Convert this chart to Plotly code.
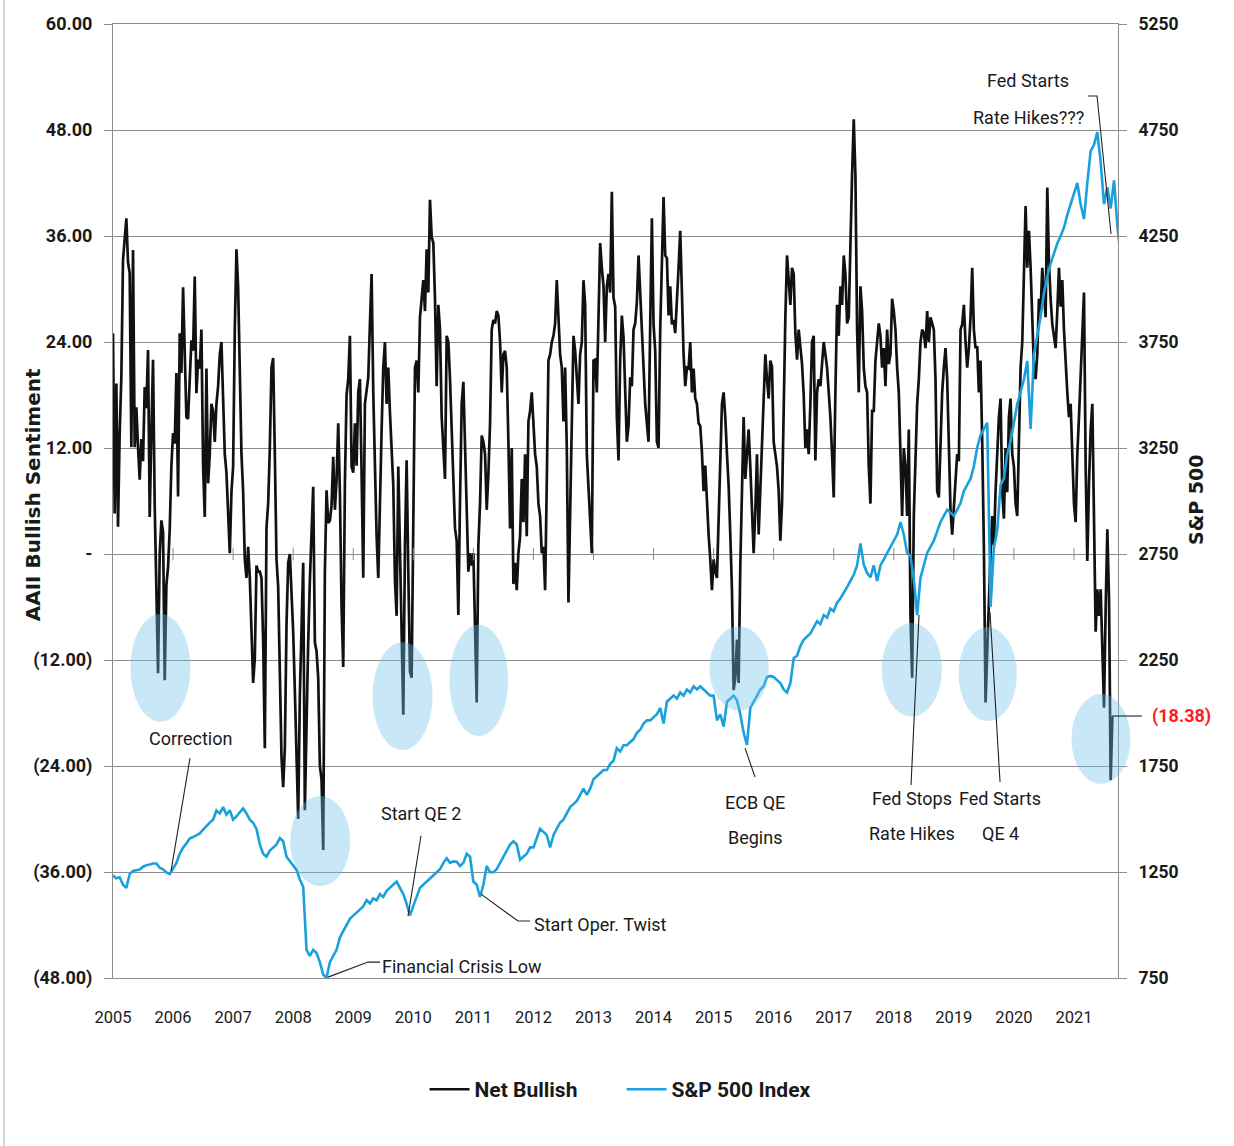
import plotly.graph_objects as go

# ---------------- data ----------------
START_YEAR = 2005.0
NB_PER_YEAR = 36   # net bullish sampled every 1/36 year
SP_PER_YEAR = 18   # S&P 500 sampled every 1/18 year

NET_BULLISH = [
    25, 4.6, 19.3, 3.1, 13.7, 20, 33.3, 36, 38, 33,
    31.8, 12.1, 34.4, 12.1, 16.6, 12.1, 8.4, 13, 10.5, 18.9,
    16.5, 23.1, 4.2, 13.7, 22, 5.5, -3.3, -13.5, 0, 3.8,
    2.5, -14.3, -3.5, -1.5, 2.8, 10, 13.7, 12.5, 20.5, 6.5,
    25, 20.5, 30.2, 22, 15.5, 15.3, 20, 24.2, 23, 31.4,
    18.2, 22, 21, 25.4, 10, 4.2, 21, 8,
    11.3, 17, 16.2, 12.7, 17, 19, 22.6, 24, 17.6, 11.3,
    9.2, 4.3, 0.1, 7, 9.9, 25.4, 34.5, 30.2, 18.3, 11.3,
    7.1, -0.6, -2.7, 0.8, -2.7, -9.7, -14.6, -11.8, -1.3, -2,
    -2, -2.7, -9.7, -22, 3, 5.7, 12, 21.1, 22.2, 11.3,
    -0.6,
    -3.7, -14, -23, -26.4, -22, -8, -1, 0, -4, -8.8,
    -15.5, -23.5, -30, -16, -9, -1, -29, -18, -10, -3,
    1.6, 7.6, -10, -11, -14, -24, -25.5, -33.5, -2, 7.2,
    3.5, 3.8, 5.5, 11, 5, 8.4, 14.8, 7, -6, -12.8,
    8, 18,
    19.8, 24.7, 9.9, 9.2, 14.8, 10, 18.3, 19.8, 9.2, -2.7,
    17, 18.3, 20, 26.1, 31.7, 18.3, 9.9, 2, -2.7, 7.8,
    14, 21.1, 24, 17, 21.1, 16, 11.3, 7.8, -3, -7,
    9.9, 0.8, -10, -18.2, 1, 10.6, -2, -13.3, -14, 5.7,
    21.1, 21.9, 18.3, 26.8, 29, 31, 27.5, 34.5, 29.6, 40.1,
    35.9, 35.2, 28.9, 19, 28.2, 25.4, 15.5, 12, 8.5, 24.7,
    24, 19.8,
    14.8, 8.5, 2.9, 1.5, -6.9, 6, 17, 19.5, 13, 4.3,
    -2, 0.1, -1.3, 0.1, -9.7, -16.8, 1, 5.7, 13.4, 12.7,
    11.3, 5, 9, 14.8, 25.4, 26.5, 26.1, 27.5, 27, 24,
    18.3, 22.6, 23, 21.1, 12.7, 2.9, 12, -3.4, -1, -4.1,
    0.1, 2, 8.5, 3.6, 11.3, 2, 15, 16.2, 18.3, 14.8,
    11.3, 9.9, 5.7, 4.3, 0.1, 0.8, -4.1, 8, 21.9, 22.6,
    24, 24.7, 26.1, 31, 27.5, 22.6, 21.1, 15, 21.1, 12,
    -5.5, 5.7, 18.3, 24.7, 23, 20.4, 17, 22.6, 24, 31,
    28.2, 11.3, 7.1, 4.3, 0.1, 21.9, 22, 18.3, 27.5, 35.2,
    32.4, 30.3, 24, 30.3, 31.7, 29.6, 41,
    29, 28, 15.5, 10.6, 22, 27, 24.5, 18.5, 12.7, 14.5,
    20, 19, 25.4, 26.1, 28.5, 33.8, 29.5, 25, 19.8, 17,
    14.8, 12.7, 26, 38, 26, 23, 12.7, 12, 25.4, 33.8,
    40.4, 33.8, 33.5, 27, 30.3, 26, 26.5, 25, 29.6, 32.4,
    36.6, 29, 22.6, 19, 21.1, 21, 24, 18.3, 21, 17.6,
    17, 14.8, 14.5, 11.5, 7.1, 10, 5, 2.2, -0.6, -4.1,
    -0.6, -2, -2.7, 4.3, 11.3, 17, 18.3, 15.5, 11.3, 7.8,
    2.2, -4.1, -15.4, -14, -9.7, -14.6, -1.3, 7.1, 15.5, 8.5,
    11.3, 14.1, 9.9, 4.3, 0.1, 5, 11.3, 2.2, 7.1, 11.3,
    17, 22.6, 19.8, 17.6, 21.9, 21.2, 12.7, 11.3, 9.9, 7.1,
    1.5, 5.7, 17, 26.8, 33.8, 31, 28.2,
    32.4, 31.7, 25, 22, 25.4, 23.3, 21.5, 18, 12, 14.1,
    11.3, 17, 24, 24.7, 10.6, 18.3, 19.8, 19, 21.1, 24,
    22.6, 21.1, 18.3, 15.5, 11.3, 6.4, 18.3, 28.2, 24.7, 30.3,
    28.2, 33.8, 31.7, 26.1, 26.8, 35.9, 42.9, 49.2, 42.9, 25.4,
    18.3, 30.3, 27.5, 21.1, 19, 18.3, 9.9, 5.7, 16.2, 16.2,
    21.9, 24, 26.1, 24.7, 21.1, 23.3, 19, 25.4, 21.5, 22.6,
    28.9, 27.5, 25.4, 21.1, 18.3, 11.3, 4.3, 12, 9.9, 4.3,
    14.1, -6.9, -14, 4.3, 12, 17, 19.8, 24, 25.4, 25,
    23.3, 27.5, 24, 26.8, 26.1, 25.4, 19.8, 7.1, 6.4, 12.7,
    18.3, 21.1, 23.3, 19.8, 12.7, 5, 2.2, 5.7, 7.8, 11.3,
    10.5,
    25.4, 26, 28.2, 24, 21.1, 23.3, 26.8, 32.4, 25.4, 23.3,
    23.5, 18.3, 21.9, 12.7, 0.8, -16.8, -11.1, -4.1, 0.1, 4.3,
    1, 7.1, 11.3, 15.5, 17.6, 7.1, 4, 12, 7, 15.5,
    17.6, 11.3, 9.9, 5.7, 4.3, 14.1, 21.1, 24, 31, 39.4,
    32.4, 36.6, 32.4, 26.8, 21.1, 19.8, 22.6, 28.9, 27.5, 32.4,
    30, 26.8, 41.5, 33, 28.9, 26, 24.7, 23.3, 27.5, 32.4,
    28, 31, 25.4, 21.1, 18.3, 15.5, 17, 11.3, 5.7, 3.6,
    11.3, 15.5, 19.8, 24, 29.6, 10, -0.8, 8, 14, 17,
    2, -8.8, -4, -7, -4, -12, -17.4, -6, 2.8, -5,
    -25.6, -18.38,
]

SP500 = [
    1234, 1220, 1225, 1190, 1175, 1240, 1255, 1260, 1262, 1275,
    1282, 1285, 1290, 1290, 1270, 1263, 1248, 1240, 1265, 1293,
    1336, 1365, 1385, 1408, 1415, 1424, 1432, 1450, 1468, 1483,
    1497, 1540, 1526, 1556, 1520, 1541, 1497, 1512, 1532, 1550,
    1526, 1497, 1482, 1453, 1380, 1336, 1322, 1351, 1365, 1380,
    1410,
    1395, 1322, 1300, 1280, 1260, 1215, 1180, 883, 854, 883,
    868, 825, 766, 751, 825, 854, 883, 942, 971, 1000,
    1029, 1044, 1059, 1073, 1088, 1117, 1102, 1125, 1117, 1146,
    1132, 1161, 1175, 1190, 1205, 1175, 1146, 1100, 1045, 1090,
    1132, 1175, 1190, 1205, 1220, 1234, 1249, 1263, 1293, 1315,
    1293,
    1300, 1298, 1278, 1293, 1336, 1322, 1205, 1190, 1132, 1190,
    1278, 1249, 1249, 1263, 1293, 1322, 1351, 1380, 1395, 1380,
    1308, 1322, 1336, 1366, 1366, 1410, 1454, 1439, 1424, 1366,
    1424, 1454, 1483, 1497, 1526, 1556, 1570, 1585, 1614, 1643,
    1614, 1643, 1687, 1702, 1716, 1731, 1731, 1760, 1775, 1834,
    1819,
    1848, 1848, 1863, 1877, 1907, 1921, 1950, 1965, 1965, 1980,
    1994, 2024, 1950, 2053, 2068, 2082, 2068, 2097, 2082, 2111,
    2097, 2126, 2111, 2126, 2111, 2097, 2082, 2082, 1965, 1994,
    1936, 2053, 2068, 2082, 2060, 1994, 1907, 1850, 2024, 2053,
    2082, 2111, 2126, 2170, 2175, 2170, 2155, 2141, 2111, 2097,
    2140,
    2258, 2270, 2316, 2345, 2360, 2375, 2404, 2433, 2420, 2462,
    2450, 2492, 2480, 2521, 2540, 2565, 2594, 2623, 2652, 2696,
    2800, 2700, 2660, 2640, 2696, 2623, 2696, 2725, 2755, 2784,
    2813, 2842, 2900, 2842, 2755, 2740, 2630, 2462, 2638, 2696,
    2755, 2784, 2813, 2857, 2901, 2930, 2959, 2945, 2930, 2959,
    2990,
    3047, 3076, 3105, 3164, 3252, 3310, 3339, 3369, 2500, 2780,
    2860, 3076, 3105, 3222, 3281, 3369, 3456, 3515, 3573, 3661,
    3340, 3690, 3778, 3870, 3980, 4060, 4120, 4170, 4215, 4250,
    4290, 4350, 4400, 4450, 4500, 4400, 4330, 4500, 4650, 4680,
    4740, 4600, 4400, 4480, 4380, 4512, 4300, 4153,
]

LEFT_TICKS = [60, 48, 36, 24, 12, 0, -12, -24, -36, -48]
LEFT_TICK_TEXT = ["60.00", "48.00", "36.00", "24.00", "12.00", "-",
                  "(12.00)", "(24.00)", "(36.00)", "(48.00)"]
RIGHT_TICKS = [5250, 4750, 4250, 3750, 3250, 2750, 2250, 1750, 1250, 750]
YEARS = list(range(2005, 2022))
LAST_VALUE = NET_BULLISH[-1]

# ---------------- styling ----------------
NARROW = "Roboto, Liberation Sans, Arial, sans-serif"
WIDE_BOLD = "DejaVu Sans, Verdana, sans-serif"
GRID = "#8c8c8c"
TXT = "#1a1a1a"
BLACK = "#111111"
BLUE = "#1aa0dc"
CIRCLE_FILL = "rgba(110,195,235,0.38)"

nb_x = [START_YEAR + i / NB_PER_YEAR for i in range(len(NET_BULLISH))]
sp_x = [START_YEAR + j / SP_PER_YEAR for j in range(len(SP500))]

fig = go.Figure()
fig.add_trace(go.Scatter(x=nb_x, y=NET_BULLISH, mode="lines", name="Net Bullish",
                         line=dict(color=BLACK, width=2.7), yaxis="y"))
fig.add_trace(go.Scatter(x=sp_x, y=SP500, mode="lines", name="S&P 500 Index",
                         line=dict(color=BLUE, width=2.6), yaxis="y2"))
# small year ticks sitting on the zero line (Excel-style crossing axis)
fig.add_trace(go.Scatter(x=YEARS[1:], y=[0] * (len(YEARS) - 1), mode="markers",
                         marker=dict(symbol="line-ns", size=9,
                                     line=dict(color=GRID, width=1)),
                         showlegend=False, hoverinfo="skip", yaxis="y"))

# highlight ellipses (data coordinates: year span, sentiment span)
CIRCLES = [
    (2005.29, 2006.29, -19.0, -6.8),
    (2007.95, 2008.95, -37.6, -27.4),
    (2009.32, 2010.32, -22.2, -10.0),
    (2010.60, 2011.58, -20.6, -8.0),
    (2014.93, 2015.92, -17.7, -8.2),
    (2017.80, 2018.80, -18.4, -7.8),
    (2019.08, 2020.05, -18.9, -8.3),
]
shapes = []
for x0, x1, y0, y1 in CIRCLES:
    shapes.append(dict(type="circle", xref="x", yref="y", x0=x0, x1=x1, y0=y0, y1=y1,
                       fillcolor=CIRCLE_FILL, line=dict(width=0), layer="above"))
# last circle overlaps the right edge -> paper coords so it is not clipped
shapes.append(dict(type="circle", xref="paper", yref="paper", x0=0.9537, x1=1.0124,
                   y0=0.2034, y1=0.2977, fillcolor=CIRCLE_FILL, line=dict(width=0),
                   layer="above"))

# pointer lines (data coordinates)
POINTERS = [
    [(2006.282, -23.1), (2005.966, -35.9)],                       # Correction
    [(2010.128, -31.9), (2009.912, -41.0)],                       # Start QE 2
    [(2009.446, -46.2), (2009.246, -46.2), (2008.58, -47.9)],     # Financial Crisis Low
    [(2011.943, -41.55), (2011.743, -41.55), (2011.127, -38.5)],  # Oper. Twist
    [(2015.689, -25.25), (2015.523, -21.97)],                     # ECB QE
    [(2018.287, -26.15), (2018.42, -6.91)],                       # Fed Stops
    [(2019.769, -25.82), (2019.602, -6.57)],                      # Fed Starts QE 4
    [(2021.234, 51.85), (2021.384, 51.85), (2021.617, 36.23)],    # Rate hikes???
]
for pts in POINTERS:
    path = "M " + " L ".join(f"{x},{y}" for x, y in pts)
    shapes.append(dict(type="path", xref="x", yref="y", path=path,
                       line=dict(color="#222222", width=1.1)))
# last value pointer (outside the plot)
shapes.append(dict(type="line", xref="paper", yref="paper", x0=0.994, x1=1.0239,
                   y0=0.2746, y1=0.2746, line=dict(color="#222222", width=1.1)))
# thin frame line at the far left of the picture
shapes.append(dict(type="line", xref="paper", yref="paper", x0=-0.1085, x1=-0.1085,
                   y0=-0.176, y1=1.03, line=dict(color="#b0b0b0", width=1)))

ann_font = dict(family=NARROW, size=18, color=TXT)
LABELS = [
    ("Correction", 2006.282, -20.83, "center"),
    ("Start QE 2", 2010.128, -29.43, "center"),
    ("Financial Crisis Low", 2009.446, -46.65, "left"),
    ("Start Oper. Twist", 2011.976, -41.89, "left"),
    ("ECB QE", 2015.689, -28.08, "center"),
    ("Begins", 2015.689, -32.15, "center"),
    ("Fed Stops", 2018.303, -27.63, "center"),
    ("Rate Hikes", 2018.303, -31.59, "center"),
    ("Fed Starts", 2019.769, -27.63, "center"),
    ("QE 4", 2019.769, -31.59, "center"),
    ("Fed Starts", 2020.235, 53.55, "center"),
    ("Rate Hikes???", 2020.235, 49.47, "center"),
]
annotations = []
for text, x, y, anchor in LABELS:
    annotations.append(dict(text=text, x=x, y=y, xref="x", yref="y", showarrow=False,
                            xanchor=anchor, yanchor="middle", font=ann_font))
annotations.append(dict(text=f"({abs(LAST_VALUE):.2f})", x=1.0318, y=LAST_VALUE,
                        xref="paper", yref="y", showarrow=False, xanchor="left",
                        yanchor="middle",
                        font=dict(family=NARROW, size=18, color="#ff1a1a", weight="bold")))
annotations.append(dict(text="AAII Bullish Sentiment", x=-0.0796, y=0.506,
                        xref="paper", yref="paper", showarrow=False, textangle=-90,
                        xanchor="center", yanchor="middle",
                        font=dict(family=WIDE_BOLD, size=20, color=TXT, weight="bold")))
annotations.append(dict(text="S&P 500", x=1.0776, y=0.501,
                        xref="paper", yref="paper", showarrow=False, textangle=-90,
                        xanchor="center", yanchor="middle",
                        font=dict(family=WIDE_BOLD, size=19, color=TXT, weight="bold")))

fig.update_layout(
    width=1234, height=1146,
    margin=dict(l=113, r=116, t=24, b=168, autoexpand=False),
    paper_bgcolor="white", plot_bgcolor="white",
    showlegend=True,
    legend=dict(orientation="h", x=0.506, xanchor="center", y=-0.117, yanchor="middle",
                font=dict(family=NARROW, size=21, color=TXT, weight="bold"),
                bgcolor="rgba(0,0,0,0)", itemwidth=40, traceorder="normal",
                entrywidth=142, entrywidthmode="pixels"),
    xaxis=dict(range=[2005, 2021.733], tickvals=YEARS, ticktext=[str(y) for y in YEARS],
               showgrid=False, zeroline=False, ticks="", showline=True, mirror=True,
               linecolor=GRID, linewidth=1, ticklabelstandoff=24,
               tickfont=dict(family=NARROW, size=16.5, color=TXT)),
    yaxis=dict(range=[-48, 60], tickvals=LEFT_TICKS, ticktext=LEFT_TICK_TEXT,
               showgrid=True, gridcolor=GRID, gridwidth=1, zeroline=False,
               showline=True, linecolor=GRID, linewidth=1,
               ticks="outside", ticklen=8, tickcolor=GRID, ticklabelstandoff=8,
               tickfont=dict(family=NARROW, size=18, color=TXT, weight="bold")),
    yaxis2=dict(range=[750, 5250], tickvals=RIGHT_TICKS,
                ticktext=[str(v) for v in RIGHT_TICKS], overlaying="y", side="right",
                showgrid=False, zeroline=False, showline=True, linecolor=GRID,
                linewidth=1, ticks="outside", ticklen=8, tickcolor=GRID,
                ticklabelstandoff=8,
                tickfont=dict(family=NARROW, size=17.5, color=TXT, weight="bold")),
    shapes=shapes,
    annotations=annotations,
)

fig.write_html("out.html", config={"displayModeBar": False},
               post_script="document.body.style.margin='0px';")
